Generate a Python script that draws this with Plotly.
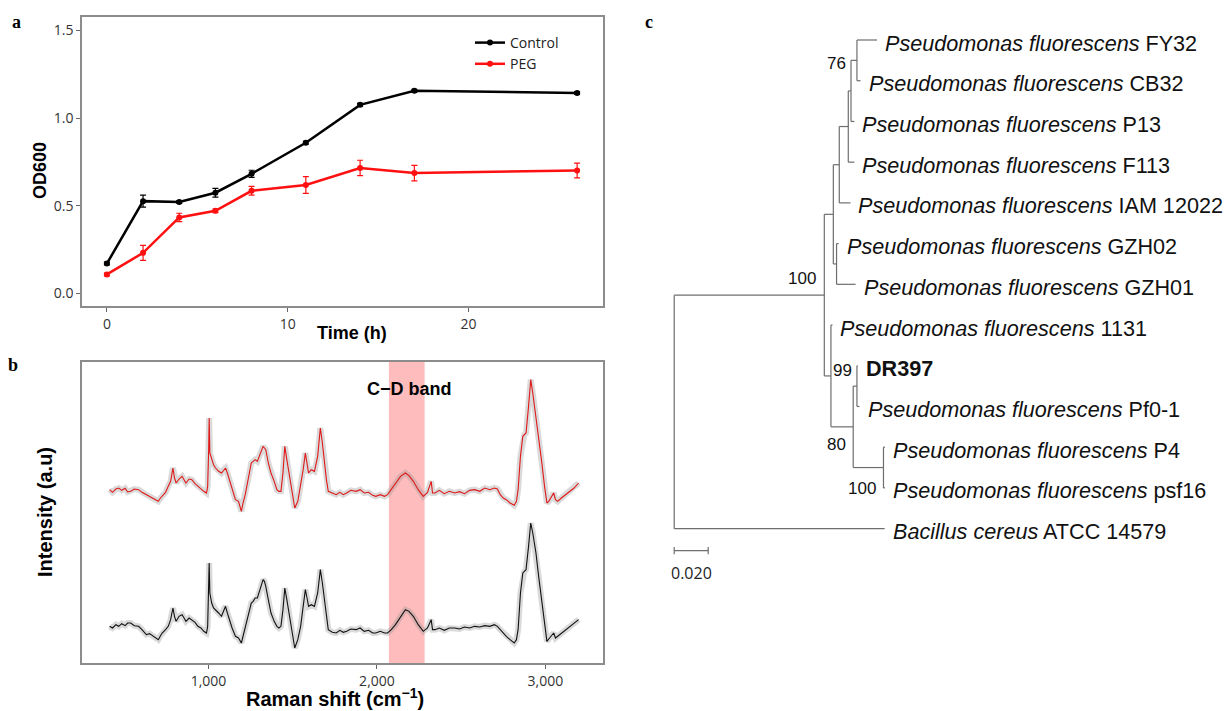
import plotly.graph_objects as go

W, H = 1226, 711

# ---------------- Panel a data ----------------
time_h = [0, 2, 4, 6, 8, 11, 14, 17, 26]
control_od = [0.171, 0.527, 0.522, 0.575, 0.683, 0.860, 1.076, 1.156, 1.144]
control_err = [0.008, 0.034, 0.008, 0.025, 0.020, 0.008, 0.008, 0.008, 0.008]
peg_od = [0.109, 0.232, 0.434, 0.472, 0.586, 0.619, 0.716, 0.687, 0.702]
peg_err = [0.008, 0.043, 0.024, 0.010, 0.025, 0.048, 0.044, 0.044, 0.042]

# ---------------- Panel b data ----------------
raman_shift = [
    413, 430, 450, 467, 485, 505, 520, 538, 560, 585,
    605, 631, 650, 670, 702, 715, 725, 745, 761, 775,
    789, 798, 808, 825, 843, 855, 866, 885, 901, 920,
    937, 955, 972, 988, 995, 1001, 1004, 1008, 1019, 1030,
    1042, 1060, 1077, 1090, 1101, 1112, 1124, 1140, 1160, 1178,
    1195, 1205, 1218, 1235, 1254, 1265, 1277, 1290, 1300, 1312,
    1324, 1332, 1340, 1355, 1371, 1390, 1406, 1418, 1430, 1442,
    1453, 1465, 1477, 1495, 1512, 1530, 1547, 1562, 1575, 1585,
    1594, 1610, 1629, 1648, 1664, 1676, 1688, 1700, 1711, 1735,
    1758, 1780, 1800, 1820, 1845, 1876, 1900, 1925, 1950, 1975,
    1993, 2020, 2045, 2063, 2085, 2110, 2140, 2169, 2190, 2216,
    2245, 2275, 2300, 2322, 2330, 2345, 2370, 2400, 2430, 2462,
    2490, 2520, 2550, 2580, 2610, 2640, 2670, 2697, 2715, 2732,
    2750, 2768, 2790, 2815, 2828, 2838, 2852, 2866, 2875, 2885,
    2900, 2913, 2925, 2944, 2960, 2979, 2995, 3009, 3020, 3038,
    3049, 3060, 3073, 3095, 3120, 3145, 3170, 3197,
]
peg_intensity = [
    5.20, 5.12, 5.22, 5.25, 5.18, 5.24, 5.13, 5.15, 5.22, 5.20,
    5.12, 5.05, 5.00, 4.93, 4.85, 4.95, 5.00, 5.12, 5.30, 5.45,
    5.85, 5.55, 5.40, 5.52, 5.60, 5.48, 5.40, 5.52, 5.50, 5.38,
    5.30, 5.22, 5.15, 5.10, 5.30, 6.40, 7.35, 6.30, 6.10, 5.95,
    5.85, 5.75, 5.70, 5.80, 5.85, 5.70, 5.50, 5.20, 4.90, 4.85,
    4.55, 4.80, 5.05, 5.50, 6.00, 6.05, 6.10, 6.05, 6.20, 6.35,
    6.50, 6.45, 6.40, 6.00, 5.70, 5.45, 5.20, 5.15, 5.15, 5.70,
    6.50, 6.10, 5.70, 5.10, 4.65, 4.85, 5.30, 5.80, 6.30, 6.00,
    5.70, 5.80, 5.75, 6.20, 7.05, 6.60, 6.00, 5.50, 5.15, 5.10,
    5.05, 5.12, 5.05, 5.10, 5.18, 5.15, 5.20, 5.10, 5.12, 5.03,
    5.00, 5.05, 5.00, 5.05, 5.20, 5.40, 5.60, 5.70, 5.62, 5.45,
    5.20, 5.00, 5.12, 5.45, 5.10, 5.10, 5.18, 5.08, 5.15, 5.10,
    5.14, 5.08, 5.18, 5.20, 5.15, 5.25, 5.20, 5.25, 5.22, 5.05,
    4.95, 4.90, 4.80, 4.73, 4.85, 5.20, 6.20, 6.80, 6.85, 6.90,
    7.70, 8.50, 8.10, 7.40, 6.70, 6.00, 5.30, 4.80, 4.85, 5.00,
    5.10, 4.90, 4.85, 4.95, 5.05, 5.15, 5.25, 5.40,
]
control_intensity = [
    1.10, 1.05, 1.15, 1.10, 1.18, 1.12, 1.20, 1.20, 1.12, 1.10,
    1.00, 0.85, 0.88, 0.80, 0.70, 0.82, 0.90, 1.00, 1.10, 1.30,
    1.65, 1.40, 1.25, 1.40, 1.45, 1.35, 1.25, 1.35, 1.30, 1.22,
    1.10, 1.05, 0.95, 0.90, 1.10, 2.20, 3.00, 2.10, 1.80, 1.65,
    1.60, 1.50, 1.40, 1.60, 1.70, 1.50, 1.30, 1.05, 0.80, 0.75,
    0.60, 0.80, 1.00, 1.40, 1.80, 1.85, 1.95, 1.95, 2.10, 2.30,
    2.50, 2.45, 2.30, 1.90, 1.50, 1.25, 1.10, 1.05, 1.10, 1.60,
    2.25, 1.90, 1.50, 0.90, 0.45, 0.70, 1.10, 1.70, 2.20, 1.95,
    1.70, 1.75, 1.70, 2.10, 2.80, 2.40, 1.90, 1.40, 1.00, 0.92,
    0.90, 0.98, 0.92, 0.95, 1.02, 1.00, 1.05, 0.95, 0.98, 0.90,
    0.90, 0.95, 0.90, 0.90, 1.00, 1.15, 1.40, 1.60, 1.55, 1.40,
    1.15, 0.95, 1.05, 1.30, 1.00, 1.00, 1.05, 0.98, 1.05, 1.05,
    1.02, 1.08, 1.05, 1.10, 1.08, 1.12, 1.10, 1.15, 1.10, 1.00,
    0.90, 0.80, 0.70, 0.60, 0.70, 1.00, 2.10, 2.70, 2.75, 2.80,
    3.50, 4.20, 3.90, 3.30, 2.60, 1.80, 1.10, 0.65, 0.72, 0.85,
    0.90, 0.75, 0.80, 0.88, 1.00, 1.10, 1.18, 1.30,
]
cd_band = [2071, 2283]

# ---------------- Panel c data (tree) ----------------
node_ids = ["A", "B", "D", "E", "F", "G", "FY32", "CB32", "P13", "F113",
            "IAM 12022", "GZH", "GZH02", "GZH01", "C", "1131", "n80", "n99",
            "DR397", "Pf0-1", "n100", "P4", "psf16", "ATCC 14579"]
node_parents = ["root", "A", "B", "D", "E", "F", "G", "G", "F", "E",
                "D", "B", "GZH", "GZH", "A", "C", "C", "n80",
                "n99", "n99", "n80", "n100", "n100", "root"]
branch_lengths = [0.0883, 0.0053, 0.0035, 0.0053, 0.0016, 0.0035, 0.0118, 0.0021, 0.0020, 0.0036,
                  0.0066, 0.0019, 0.0012, 0.0112, 0.0039, 0.0009, 0.0131, 0.0022,
                  0.0005, 0.0015, 0.0178, 0.0009, 0.0009, 0.1238]
leaf_genus = {"ATCC 14579": "Bacillus cereus"}
default_genus = "Pseudomonas fluorescens"
bold_leaves = ["DR397"]
bootstrap_nodes = ["A", "G", "n99", "n80", "n100"]
bootstrap_values = [100, 76, 99, 80, 100]
scale_bar_value = 0.020

# ---------------- tree layout ----------------
children = {}
length_of = {}
for nid, par, bl in zip(node_ids, node_parents, branch_lengths):
    children.setdefault(par, []).append(nid)
    length_of[nid] = bl

xpos, ypos = {"root": 0.0}, {}
leaf_order = []


def place(node):
    kids = children.get(node, [])
    for k in kids:
        xpos[k] = xpos[node] + length_of[k]
        place(k)
    if not kids:
        ypos[node] = len(leaf_order)
        leaf_order.append(node)
    else:
        ypos[node] = (ypos[kids[0]] + ypos[kids[-1]]) / 2.0


place("root")

tx, ty = [], []
for node, kids in children.items():
    tx += [xpos[node], xpos[node], None]
    ty += [ypos[kids[0]], ypos[kids[-1]], None]
    for k in kids:
        tx += [xpos[node], xpos[k], None]
        ty += [ypos[k], ypos[k], None]

fig = go.Figure()

# Panel a
fig.add_trace(go.Scatter(
    x=time_h, y=control_od, mode="lines+markers", name="Control",
    line=dict(color="black", width=2.5), marker=dict(size=6, color="black"),
    error_y=dict(type="data", array=control_err, color="black", thickness=1.2, width=3),
    xaxis="x", yaxis="y"))
fig.add_trace(go.Scatter(
    x=time_h, y=peg_od, mode="lines+markers", name="PEG",
    line=dict(color="#ff1010", width=2.5), marker=dict(size=6, color="#ff1010"),
    error_y=dict(type="data", array=peg_err, color="#ff1010", thickness=1.2, width=3),
    xaxis="x", yaxis="y"))

# Panel b
for ys, col in [(peg_intensity, "#e01818"), (control_intensity, "#111111")]:
    fig.add_trace(go.Scatter(x=raman_shift, y=ys, mode="lines", showlegend=False,
                             line=dict(color="rgba(150,150,150,0.35)", width=6),
                             hoverinfo="skip", xaxis="x2", yaxis="y2"))
    fig.add_trace(go.Scatter(x=raman_shift, y=ys, mode="lines", showlegend=False,
                             line=dict(color=col, width=1.1), xaxis="x2", yaxis="y2"))

# Panel c tree
fig.add_trace(go.Scatter(x=tx, y=ty, mode="lines", showlegend=False,
                         line=dict(color="#6e6e6e", width=1.2), hoverinfo="skip",
                         xaxis="x3", yaxis="y3"))
sb_y = len(leaf_order) - 1 + 0.54
fig.add_trace(go.Scatter(x=[0, scale_bar_value, None, 0, 0, None, scale_bar_value, scale_bar_value],
                         y=[sb_y, sb_y, None, sb_y - 0.09, sb_y + 0.09, None, sb_y - 0.09, sb_y + 0.09],
                         mode="lines", showlegend=False, line=dict(color="#6e6e6e", width=1.2),
                         hoverinfo="skip", xaxis="x3", yaxis="y3"))

annotations = []
for leaf in leaf_order:
    if leaf in bold_leaves:
        txt = "<b>%s</b>" % leaf
    else:
        txt = "<i>%s</i> %s" % (leaf_genus.get(leaf, default_genus), leaf)
    annotations.append(dict(x=xpos[leaf], y=ypos[leaf], xref="x3", yref="y3", text=txt,
                            showarrow=False, xanchor="left", yanchor="middle", xshift=6, yshift=-3,
                            font=dict(family="Liberation Sans", size=21.6, color="#111")))
boot_offsets = {"A": (-6, 17), "G": (-9, -3), "n99": (-3, 16), "n80": (-5, -18), "n100": (-5, -21)}
for nd, bv in zip(bootstrap_nodes, bootstrap_values):
    dx, dy = boot_offsets[nd]
    annotations.append(dict(x=xpos[nd], y=ypos[nd], xref="x3", yref="y3", text=str(bv),
                            showarrow=False, xanchor="right", yanchor="middle", xshift=dx, yshift=dy,
                            font=dict(family="Liberation Sans", size=17, color="#111")))
annotations.append(dict(x=scale_bar_value / 2, y=sb_y, xref="x3", yref="y3", text="%.3f" % scale_bar_value,
                        showarrow=False, xanchor="center", yanchor="middle", yshift=-22,
                        font=dict(family="Open Sans", size=16, color="#222")))


def px(x):
    return x / W


def py(y):
    return 1 - y / H


def label(x, y, text, font, angle=0):
    return dict(x=px(x), y=py(y), xref="paper", yref="paper", text=text, showarrow=False,
                xanchor="center", yanchor="middle", textangle=angle, font=font)


serif = dict(family="Liberation Serif", size=18, color="black")
title_a = dict(family="Liberation Sans", size=18, color="black")
title_b = dict(family="Liberation Sans", size=20, color="black")
annotations += [
    label(16, 22, "<b>a</b>", serif),
    label(13, 365, "<b>b</b>", serif),
    label(649, 22, "<b>c</b>", serif),
    label(40, 171, "<b>OD600</b>", title_a, -90),
    label(352, 333, "<b>Time (h)</b>", title_a),
    label(45, 512, "<b>Intensity (a.u)</b>", title_b, -90),
    label(335, 697, "<b>Raman shift (cm<sup>−1</sup>)</b>", title_b),
    dict(x=sum(cd_band) / 2, y=0.91, xref="x2", yref="y2 domain", text="<b>C−D band</b>", showarrow=False,
         xanchor="center", yanchor="middle", xshift=3,
         font=dict(family="Liberation Sans", size=18, color="black")),
]

shapes = [dict(type="rect", xref="x2", yref="y2 domain", x0=cd_band[0], x1=cd_band[1], y0=0, y1=1,
               fillcolor="#ffb0b0", opacity=0.85, line=dict(width=0), layer="below")]

axis_common = dict(showline=True, mirror=True, linecolor="#8c8c8c", linewidth=1.5, showgrid=False,
                   zeroline=False, ticks="outside", ticklen=4, tickcolor="#666",
                   tickfont=dict(family="Open Sans", size=14, color="#333"))

fig.update_layout(
    width=W, height=H, margin=dict(l=0, r=0, t=0, b=0),
    paper_bgcolor="white", plot_bgcolor="white",
    xaxis=dict(domain=[px(82), px(603)], range=[-1.376, 27.43], tickvals=[0, 10, 20], anchor="y", **axis_common),
    yaxis=dict(domain=[py(306), py(17)], range=[-0.071, 1.577], tickvals=[0, 0.5, 1.0, 1.5], tickformat=".1f",
               anchor="x", **axis_common),
    xaxis2=dict(domain=[px(82), px(603)], range=[249, 3342], tickvals=[1000, 2000, 3000], tickformat=",d",
                anchor="y2", **axis_common),
    yaxis2=dict(domain=[py(663), py(362)], range=[0, 9.03], showticklabels=False, anchor="x2",
                showline=True, mirror=True, linecolor="#8c8c8c", linewidth=1.5, showgrid=False,
                zeroline=False, ticks=""),
    xaxis3=dict(domain=[px(620), 1], range=[-54.2 / 1700, (W - 674.2) / 1700], visible=False, anchor="y3"),
    yaxis3=dict(domain=[0, 1], range=[(H - 40) / 40.72, -40 / 40.72], visible=False, anchor="x3"),
    legend=dict(x=px(470), y=py(27), xanchor="left", yanchor="top", bgcolor="rgba(0,0,0,0)",
                font=dict(family="Open Sans", size=14, color="#222"), itemwidth=30, tracegroupgap=0),
    annotations=annotations, shapes=shapes,
)

fig.write_html("out.html", config={"displayModeBar": False},
               post_script="document.body.style.margin='0px';document.body.style.overflow='hidden';")
